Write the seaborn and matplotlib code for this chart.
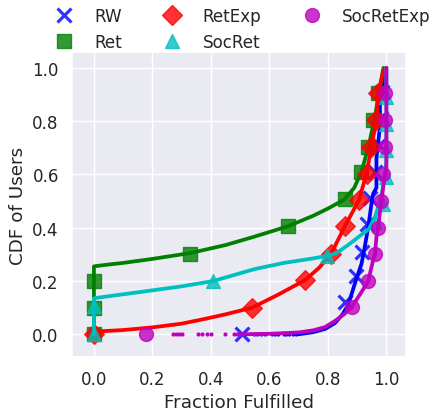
import matplotlib
matplotlib.use("Agg")
import matplotlib.pyplot as plt
from matplotlib.lines import Line2D
import seaborn as sns
import numpy as np

# ---------------- data ----------------
names = ["RW", "Ret", "RetExp", "SocRet", "SocRetExp"]
colors = ["#0000ff", "#008000", "#ff0000", "#00bfbf", "#bf00bf"]
markers = ["x", "s", "D", "^", "o"]

# CDF curves (fraction fulfilled, CDF of users)
rw_x = [0.70, 0.75, 0.79, 0.824, 0.85, 0.87, 0.892, 0.915, 0.926, 0.938, 0.949,
        0.955, 0.966, 0.966, 0.978, 0.978, 0.99, 0.99]
rw_y = [0.0, 0.008, 0.02, 0.042, 0.075, 0.112, 0.19, 0.265, 0.328, 0.403, 0.49,
        0.528, 0.55, 0.66, 0.78, 0.87, 0.91, 0.99]
rw_sparse_x = [0.546, 0.558, 0.572, 0.585, 0.61, 0.62, 0.63, 0.649, 0.658, 0.666, 0.68, 0.69]
rw_mx = [0.506, 0.858, 0.895, 0.917, 0.932, 0.944, 0.962, 0.975, 0.98, 0.985]
rw_my = [0.0, 0.12, 0.22, 0.31, 0.415, 0.51, 0.61, 0.71, 0.81, 0.91]

ret_x = [0.0, 0.0, 0.05, 0.10, 0.20, 0.33, 0.45, 0.55, 0.662, 0.75, 0.80, 0.857,
         0.89, 0.915, 0.94, 0.96, 0.975, 0.99]
ret_y = [0.0, 0.255, 0.262, 0.268, 0.283, 0.305, 0.335, 0.367, 0.405, 0.445, 0.472,
         0.506, 0.55, 0.61, 0.71, 0.81, 0.91, 1.0]
ret_mx = [0.0, 0.0, 0.0, 0.33, 0.662, 0.857, 0.912, 0.938, 0.955, 0.97]
ret_my = [0.0, 0.10, 0.20, 0.30, 0.405, 0.506, 0.61, 0.704, 0.804, 0.904]

retexp_x = [0.0, 0.0, 0.10, 0.20, 0.30, 0.38, 0.45, 0.541, 0.632, 0.723, 0.77, 0.81, 0.86,
            0.906, 0.932, 0.949, 0.966, 0.972, 0.99, 1.0]
retexp_y = [0.0, 0.01, 0.016, 0.026, 0.04, 0.058, 0.075, 0.10, 0.15, 0.204, 0.25, 0.30, 0.41,
            0.503, 0.603, 0.704, 0.804, 0.904, 0.99, 1.0]
retexp_mx = [0.0, 0.541, 0.723, 0.81, 0.86, 0.906, 0.932, 0.949, 0.966, 0.972]
retexp_my = [0.0, 0.10, 0.204, 0.30, 0.408, 0.503, 0.603, 0.704, 0.804, 0.904]

socret_x = [0.0, 0.0, 0.01, 0.153, 0.30, 0.408, 0.55, 0.65, 0.75, 0.80, 0.83, 0.875,
            0.91, 0.94, 0.961, 0.975, 0.985, 0.995, 1.0, 1.0]
socret_y = [0.0, 0.135, 0.137, 0.158, 0.18, 0.20, 0.245, 0.268, 0.285, 0.295, 0.305, 0.34,
            0.37, 0.395, 0.44, 0.49, 0.53, 0.60, 0.65, 1.0]
socret_mx = [0.0, 0.0, 0.408, 0.798, 0.96, 0.99, 0.998, 1.0, 1.0, 1.0]
socret_my = [0.0, 0.108, 0.20, 0.295, 0.42, 0.49, 0.59, 0.69, 0.79, 0.89]

socretexp_x = [0.506, 0.60, 0.70, 0.75, 0.79, 0.824, 0.855, 0.881, 0.91, 0.927, 0.938,
               0.955, 0.961, 0.966, 0.972, 0.977, 0.983, 0.99, 0.995, 1.0, 1.0]
socretexp_y = [0.0, 0.002, 0.007, 0.015, 0.027, 0.05, 0.075, 0.102, 0.15, 0.18, 0.20,
               0.28, 0.30, 0.365, 0.40, 0.45, 0.50, 0.56, 0.60, 0.62, 1.0]
socretexp_sparse_x = [0.27, 0.28, 0.29, 0.30, 0.355, 0.37, 0.385, 0.40, 0.448, 0.48, 0.49, 0.50]
socretexp_mx = [0.178, 0.881, 0.938, 0.961, 0.972, 0.983, 0.99, 0.995, 0.995, 0.995]
socretexp_my = [0.0, 0.102, 0.20, 0.30, 0.40, 0.50, 0.603, 0.704, 0.804, 0.904]

curves_x = [rw_x, ret_x, retexp_x, socret_x, socretexp_x]
curves_y = [rw_y, ret_y, retexp_y, socret_y, socretexp_y]
marks_x = [rw_mx, ret_mx, retexp_mx, socret_mx, socretexp_mx]
marks_y = [rw_my, ret_my, retexp_my, socret_my, socretexp_my]
sparse_x = [rw_sparse_x, [], [], [], socretexp_sparse_x]

xticks = [0.0, 0.2, 0.4, 0.6, 0.8, 1.0]
yticks = [0.0, 0.2, 0.4, 0.6, 0.8, 1.0]

# ---------------- plot ----------------
sns.set_theme(style="darkgrid", font_scale=1.1)
plt.rcParams["font.family"] = ["DejaVu Sans"]

fig = plt.figure(figsize=(4.35, 4.14), dpi=100)
ax = fig.add_axes([0.1655, 0.136, 0.7678, 0.735])

for i, name in enumerate(names):
    z = 2 + i * 0.1
    sns.lineplot(x=curves_x[i], y=curves_y[i], sort=False, estimator=None,
                 color=colors[i], linewidth=2.7, ax=ax, zorder=z)
    if sparse_x[i]:
        sns.scatterplot(x=sparse_x[i], y=[0.0] * len(sparse_x[i]), color=colors[i],
                        marker="o", s=9, linewidth=0, ax=ax, zorder=z + 0.01)
    if markers[i] == "x":
        sns.scatterplot(x=marks_x[i], y=marks_y[i], marker="x", s=100,
                        color=colors[i], linewidth=2.3, alpha=0.8, ax=ax, zorder=z + 0.05)
    else:
        sns.scatterplot(x=marks_x[i], y=marks_y[i], marker=markers[i], s=100,
                        color=colors[i], edgecolor=colors[i], linewidth=1,
                        alpha=0.8, ax=ax, zorder=z + 0.05)

ax.set_xlim(-0.075, 1.067)
ax.set_ylim(-0.084, 1.058)
ax.set_xticks(xticks)
ax.set_yticks(yticks)
ax.set_xticklabels([f"{t:.1f}" for t in xticks])
ax.set_yticklabels([f"{t:.1f}" for t in yticks])
ax.set_xlabel("Fraction Fulfilled")
ax.set_ylabel("CDF of Users")

handles = []
for i, name in enumerate(names):
    if markers[i] == "x":
        h = Line2D([], [], linestyle="", marker="x", markersize=10, markeredgewidth=2.3,
                   color=colors[i], alpha=0.8, label=name)
    else:
        h = Line2D([], [], linestyle="", marker=markers[i], markersize=10,
                   color=colors[i], alpha=0.8, label=name)
    handles.append(h)
ax.legend(handles=handles, loc="lower center", bbox_to_anchor=(0.5, 0.982),
          ncol=3, frameon=False, borderaxespad=0.0)

fig.savefig("out.png", dpi=100)
